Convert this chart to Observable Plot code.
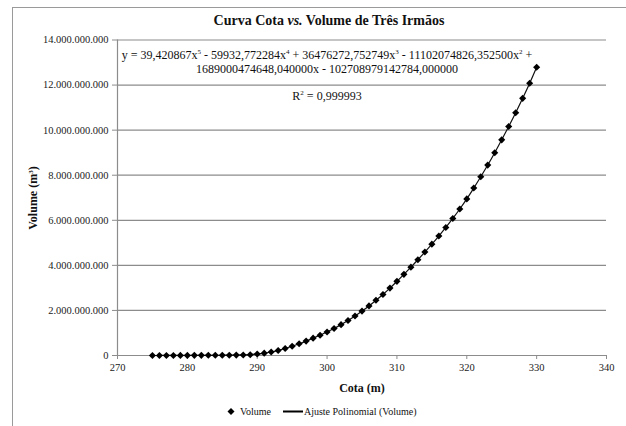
<!DOCTYPE html>
<html>
<head>
<meta charset="utf-8">
<script src="https://cdn.jsdelivr.net/npm/d3@7"></script>
<script src="https://cdn.jsdelivr.net/npm/@observablehq/plot@0.6"></script>
<style>
  html, body { margin: 0; padding: 0; background: #fff; }
  body { width: 626px; height: 426px; overflow: hidden; position: relative; font-family: "Liberation Serif", "Times New Roman", serif; color: #111; }
  #frame { position: absolute; left: 12px; top: 7px; width: 700px; height: 500px; border-left: 1px solid #9a9a9a; border-top: 1px solid #9a9a9a; }
  #chart { position: absolute; left: 0; top: 0; }
  .abs { position: absolute; white-space: nowrap; }
  #title { left: 329px; top: 21px; transform: translate(-50%, -50%); font-weight: bold; font-size: 14px; }
  .eq { left: 327px; transform: translate(-50%, -50%); font-size: 12px; }
  .eq sup { font-size: 7px; vertical-align: 0; position: relative; top: -5px; }
  #ytitle { left: 33px; top: 198px; transform: translate(-50%, -50%) rotate(-90deg); font-weight: bold; font-size: 12px; }
  #ytitle sup { font-size: 7px; position: relative; top: -4px; vertical-align: 0; }
  #xtitle { left: 362px; top: 388px; transform: translate(-50%, -50%); font-weight: bold; font-size: 12px; }
  #legend { left: 226px; top: 411px; transform: translateY(-50%); font-size: 10px; display: flex; align-items: center; }
</style>
</head>
<body>
<div id="frame"></div>
<div id="chart"></div>
<div id="title" class="abs">Curva Cota <i>vs.</i> Volume de Três Irmãos</div>
<div class="abs eq" style="top:55px;">y = 39,420867x<sup>5</sup> - 59932,772284x<sup>4</sup> + 36476272,752749x<sup>3</sup> - 11102074826,352500x<sup>2</sup> +</div>
<div class="abs eq" style="top:69px;">1689000474648,040000x - 102708979142784,000000</div>
<div class="abs eq" style="top:96px;">R<sup>2</sup> = 0,999993</div>
<div id="ytitle" class="abs">Volume (m<sup>3</sup>)</div>
<div id="xtitle" class="abs">Cota (m)</div>
<div id="legend" class="abs">
  <svg width="10" height="10" style="margin-right:4px"><path d="M5,1.5L8.5,5L5,8.5L1.5,5Z" fill="#000"/></svg>
  <span>Volume</span>
  <svg width="20" height="10" style="margin-left:12px;margin-right:1px"><line x1="0" x2="20" y1="5" y2="5" stroke="#000" stroke-width="2"/></svg>
  <span>Ajuste Polinomial (Volume)</span>
</div>
<script>
// Data
const cota = [275,276,277,278,279,280,281,282,283,284,285,286,287,288,289,290,291,292,293,294,295,296,297,298,299,300,301,302,303,304,305,306,307,308,309,310,311,312,313,314,315,316,317,318,319,320,321,322,323,324,325,326,327,328,329,330];
// Volume in billions of m³
const volumeBi = [0.000,0.001,0.002,0.003,0.004,0.005,0.006,0.007,0.008,0.010,0.012,0.014,0.018,0.024,0.035,0.065,0.105,0.155,0.225,0.31,0.41,0.52,0.64,0.77,0.90,1.04,1.20,1.37,1.55,1.75,1.97,2.20,2.45,2.71,2.99,3.29,3.60,3.92,4.25,4.59,4.94,5.30,5.68,6.08,6.50,6.95,7.43,7.93,8.45,9.00,9.57,10.16,10.77,11.41,12.08,12.79];
const xTicks = [270,280,290,300,310,320,330,340];
const yTicks = [0,2e9,4e9,6e9,8e9,10e9,12e9,14e9];

const data = cota.map((c, i) => ({cota: c, volume: volumeBi[i] * 1e9}));
const loc = d3.formatLocale({decimal: ",", thousands: ".", grouping: [3], currency: ["", ""]});
const fmt = loc.format(",d");

const chart = Plot.plot({
  width: 626,
  height: 426,
  marginLeft: 117,
  marginRight: 20,
  marginTop: 39.5,
  marginBottom: 71,
  style: {fontFamily: "'Liberation Serif', serif", fontSize: "10.5px", background: "transparent", color: "#222"},
  x: {domain: [270, 340]},
  y: {domain: [0, 14e9]},
  marks: [
    Plot.gridY(yTicks, {stroke: "#8c8c8c", strokeOpacity: 1, strokeWidth: 1.2}),
    Plot.ruleX([270], {stroke: "#8c8c8c", strokeWidth: 1.2}),
    Plot.ruleY([0], {stroke: "#8c8c8c", strokeWidth: 1.2}),
    Plot.axisY({ticks: yTicks, tickSize: 5, tickPadding: 4, tickFormat: fmt, stroke: "#8c8c8c", fill: "#222", label: null}),
    Plot.axisX({ticks: xTicks, tickSize: 4, tickPadding: 4, tickFormat: d => String(d), stroke: "#8c8c8c", fill: "#222", label: null}),
    Plot.line(data, {x: "cota", y: "volume", stroke: "#111", strokeWidth: 1.2, curve: "catmull-rom"}),
    Plot.dot(data, {x: "cota", y: "volume", symbol: "diamond2", r: 3.2, fill: "#000", stroke: "none"})
  ]
});
document.getElementById("chart").appendChild(chart);
</script>
</body>
</html>
